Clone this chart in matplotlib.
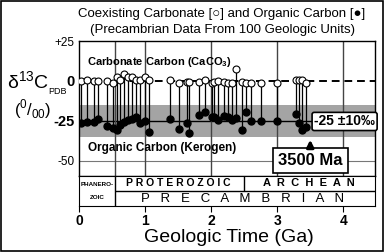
import numpy as np
import matplotlib.pyplot as plt
from matplotlib.patches import Rectangle

plt.rcParams['font.family'] = ['Liberation Sans', 'DejaVu Sans']
plt.rcParams['mathtext.fontset'] = 'custom'
plt.rcParams['mathtext.rm'] = 'Liberation Sans'
plt.rcParams['mathtext.bf'] = 'Liberation Sans:bold'

# ages in Ga, delta13C in permil
age = [0.03, 0.12, 0.23, 0.29, 0.42, 0.51, 0.57, 0.62, 0.68, 0.74, 0.80, 0.87,
       0.92, 1.00, 1.06, 1.37, 1.51, 1.63, 1.66, 1.81, 1.90, 2.01, 2.05, 2.11,
       2.20, 2.25, 2.31, 2.37, 2.46, 2.52, 2.61, 2.76, 2.99, 3.29, 3.33, 3.38, 3.44]
carbonate = [0.0, 0.6, 0.0, 0.0, 0.0, -1.3, 2.5, 0.6, 4.4, 2.5, 2.5, 0.6,
             0.6, 2.5, 0.6, 0.6, -1.3, -0.6, -0.6, -0.6, 0.6, -1.3, -0.6, 0.0,
             -0.6, -1.3, -1.3, 7.5, -0.6, -1.3, -1.3, -1.3, -1.3, 0.6, 0.6, 0.6, -1.3]
organic = [-26.3, -25.6, -25.6, -23.8, -28.1, -29.4, -30.6, -27.5, -25.6, -24.4, -23.8, -22.5,
           -26.3, -25.0, -31.9, -23.8, -30.0, -26.3, -32.5, -21.3, -19.4, -22.5, -22.5, -24.4,
           -21.9, -22.5, -24.4, -23.1, -30.6, -19.4, -25.0, -25.0, -25.0, -20.6, -26.3, -30.6, -28.8]

yticks = [25, 0, -25, -50]
ytick_labels = ['+25', '0', '-25', '-50']
xticks = [0, 1, 2, 3, 4]
grid_x = [0.545, 1, 2, 3, 4]
phanero_end = 0.545
archean_start = 2.5

W, H = 384, 252
fig = plt.figure(figsize=(W / 100, H / 100), dpi=100)


def px_axes(l, t, r, b):
    return fig.add_axes([l / W, 1 - b / H, (r - l) / W, (b - t) / H])


ax = px_axes(79, 41, 375, 176)
tab = px_axes(79, 176, 375, 206)
xmax = 4.48

# main panel
ax.set_xlim(0, xmax)
ax.set_ylim(-59.4, 25)
ax.axhspan(-35, -15, color='#a4a4a4', lw=0, zorder=0)
ax.axhline(0, color='black', ls=(0, (4, 2.5)), lw=1.4, zorder=1)
ax.axhline(-25, color='black', lw=1.0, zorder=1)
ax.axhline(-50, color='#777777', lw=0.8, zorder=1)
for g in grid_x:
    ax.axvline(g, color='#444444', lw=1.0, zorder=1)

ax.vlines(age, organic, carbonate, color='black', lw=0.9, zorder=3)
ax.plot(age, organic, 'o', ms=5, mfc='black', mec='black', zorder=4)
ax.plot(age, carbonate, 'o', ms=5, mfc='white', mec='black', mew=0.8, zorder=5)

ax.set_xticks([])
ax.set_yticks(yticks)
ax.set_yticklabels(ytick_labels)
ax.tick_params(axis='y', length=0, pad=3)
for lbl, big in zip(ax.get_yticklabels(), [False, True, True, False]):
    lbl.set_fontsize(10.5 if big else 8.5)
    lbl.set_fontweight('bold' if big else 'normal')
for s in ax.spines.values():
    s.set_linewidth(1.0)

ax.text(0.12, 11.9, r'Carbonate Carbon (CaCO$_\mathbf{3}$)', fontsize=8,
        fontweight='bold', va='center', ha='left')
ax.text(0.14, -41.9, 'Organic Carbon (Kerogen)', fontsize=8.5,
        fontweight='bold', va='center', ha='left')
ax.text(4.02, -25.3, '-25 ±10‰', fontsize=10, fontweight='bold', ha='center', va='center',
        bbox=dict(boxstyle='round,pad=0.15', fc='white', ec='black', lw=1.2), zorder=6)
ax.text(3.5, -49.5, '3500 Ma', fontsize=12, fontweight='bold', ha='center', va='center',
        bbox=dict(boxstyle='square,pad=0.3', fc='white', ec='black', lw=1.2), zorder=6)
ax.annotate('', xy=(3.5, -35), xytext=(3.5, -43.5),
            arrowprops=dict(arrowstyle='-|>', color='black', lw=2.2, mutation_scale=10),
            zorder=6)

# era table
tab.set_xlim(0, xmax)
tab.set_ylim(0, 2)
tab.set_yticks([])
tab.set_xticks(xticks)
tab.tick_params(axis='x', length=4, direction='out', labelsize=10, pad=2)
for lbl in tab.get_xticklabels():
    lbl.set_fontweight('bold')
tab.axvline(phanero_end, color='black', lw=1.0)
tab.hlines(1, phanero_end, xmax, color='black', lw=1.0)
tab.vlines(archean_start, 1, 2, color='black', lw=1.0)
tab.text(phanero_end / 2, 1.45, 'PHANERO-', fontsize=4.5, fontweight='bold', ha='center', va='center')
tab.text(phanero_end / 2, 0.55, 'ZOIC', fontsize=4.5, fontweight='bold', ha='center', va='center')
tab.text(1.5, 1.5, ' '.join('PROTEROZOIC'), fontsize=7.5, fontweight='bold', ha='center', va='center')
tab.text(3.48, 1.5, '  '.join('ARCHEAN'), fontsize=8, fontweight='bold', ha='center', va='center')
tab.text(2.47, 0.48, '   '.join('PRECAMBRIAN'), fontsize=9.5, ha='center', va='center')

# figure texts
fig.text(222 / W, 1 - 14 / H, 'Coexisting Carbonate [○] and Organic Carbon [●]',
         fontsize=9.5, ha='center', va='center')
fig.text(222 / W, 1 - 30 / H, '(Precambrian Data From 100 Geologic Units)',
         fontsize=9.5, ha='center', va='center')
fig.text(7 / W, 1 - 82 / H, r'δ$^{13}$C', fontsize=14, ha='left', va='center')
fig.text(48 / W, 1 - 92 / H, 'PDB', fontsize=6.5, ha='left', va='center')
fig.text(33 / W, 1 - 109 / H, r'($^{0}$/$_{00}$)', fontsize=12, ha='center', va='center')
fig.text(229 / W, 1 - 238 / H, 'Geologic Time (Ga)', fontsize=14, ha='center', va='center')

fig.patches.append(Rectangle((0.002, 0.003), 0.995, 0.994, transform=fig.transFigure,
                             fill=False, ec='black', lw=1.2))

fig.savefig('out.png', dpi=100)
